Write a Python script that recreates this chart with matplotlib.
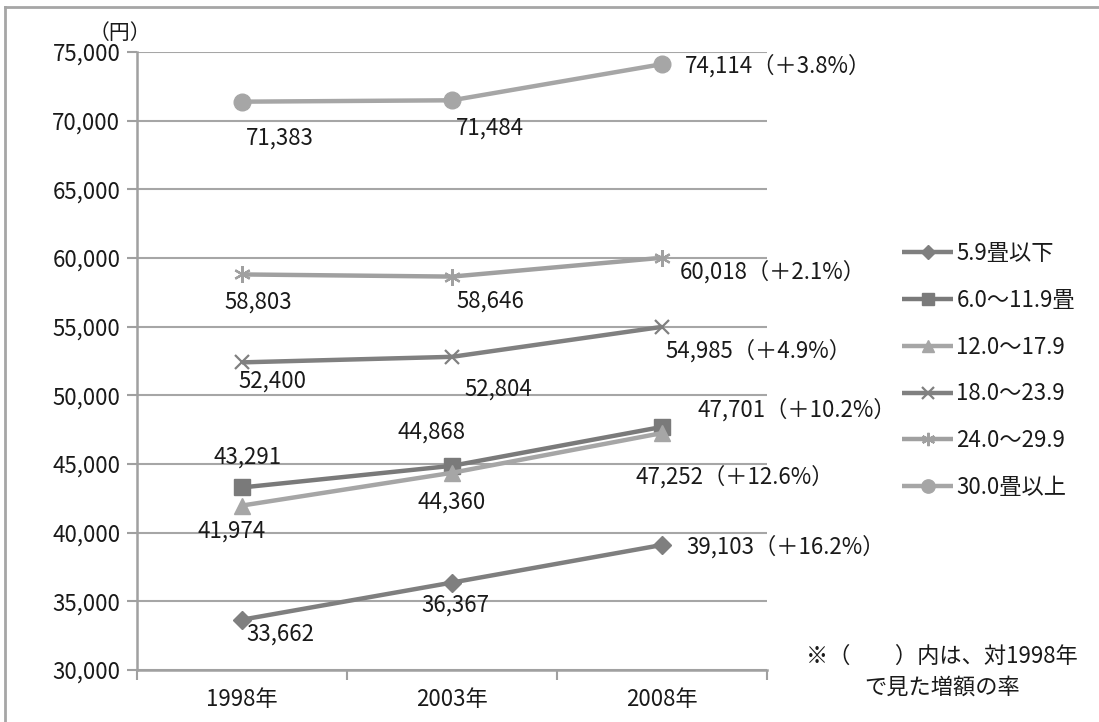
import matplotlib
matplotlib.use("Agg")
import matplotlib.pyplot as plt
from matplotlib.lines import Line2D
from matplotlib.ticker import FuncFormatter, FixedLocator

plt.rcParams["font.family"] = ["Noto Sans CJK JP", "DejaVu Sans"]

years = ["1998年", "2003年", "2008年"]
series_names = ["5.9畳以下", "6.0～11.9畳", "12.0～17.9", "18.0～23.9", "24.0～29.9", "30.0畳以上"]
rent_59 = [33662, 36367, 39103]
rent_60_119 = [43291, 44868, 47701]
rent_120_179 = [41974, 44360, 47252]
rent_180_239 = [52400, 52804, 54985]
rent_240_299 = [58803, 58646, 60018]
rent_300 = [71383, 71484, 74114]
growth = ["＋16.2%", "＋10.2%", "＋12.6%", "＋4.9%", "＋2.1%", "＋3.8%"]

all_series = [rent_59, rent_60_119, rent_120_179, rent_180_239, rent_240_299, rent_300]

# line styling per series
styles = [
    dict(color="#7f7f7f", marker="D", ms=9),
    dict(color="#7a7a7a", marker="s", ms=11),
    dict(color="#a6a6a6", marker="^", ms=11),
    dict(color="#808080", marker="x", ms=10, mew=1.6),
    dict(color="#a0a0a0", marker=(6, 2, 0), ms=12, mew=1.6),
    dict(color="#a6a6a6", marker="o", ms=12),
]

# label offsets in pixels (dx, dy) for each point; last entry is left-aligned
offsets = [
    [(38, -14), (3, -23), (24, -2)],
    [(6, 30), (-20, 34), (35, 17)],
    [(-10, -26), (0, -29), (-26, -44)],
    [(30, -19), (46, -32), (3, -24)],
    [(16, -28), (38, -25), (18, -14)],
    [(38, -36), (38, -28), (23, -2)],
]

fig = plt.figure(figsize=(10.99, 7.22), dpi=100)
ax = fig.add_axes([137 / 1099, 52 / 722, 630 / 1099, 618 / 722])

x = list(range(len(years)))
text_color = "#1a1a1a"
fs = 16

for name, vals, st, offs, g in zip(series_names, all_series, styles, offsets, growth):
    ax.plot(x, vals, lw=3.2, color=st["color"], marker=st["marker"], ms=st["ms"],
            mew=st.get("mew", 1.0), mec=st["color"], mfc=st["color"], label=name,
            solid_capstyle="butt", clip_on=False, zorder=3)
    for i, v in enumerate(vals):
        if i == len(vals) - 1:
            txt = f"{v:,}（{g}）"
            ha = "left"
        else:
            txt = f"{v:,}"
            ha = "center"
        ax.annotate(txt, (x[i], v), xytext=offs[i], textcoords="offset pixels",
                    ha=ha, va="center", fontsize=fs, color=text_color,
                    annotation_clip=False)

ax.set_xlim(-0.5, 2.5)
ax.set_ylim(30000, 75000)
ax.yaxis.set_major_locator(FixedLocator(range(30000, 75001, 5000)))
ax.yaxis.set_major_formatter(FuncFormatter(lambda v, p: f"{int(v):,}"))
ax.set_xticks(x)
ax.set_xticklabels(years)
ax.set_xticks([-0.5, 0.5, 1.5, 2.5], minor=True)
ax.tick_params(axis="x", which="major", length=0, pad=13, labelsize=fs, labelcolor=text_color)
ax.tick_params(axis="x", which="minor", length=7, width=1.5, color="#a0a0a0")
ax.tick_params(axis="y", length=7, width=1.5, color="#a0a0a0", pad=5,
               labelsize=fs, labelcolor=text_color)

ax.grid(axis="y", color="#a6a6a6", lw=1.5, zorder=0)
ax.set_axisbelow(True)
for side in ("top", "right"):
    ax.spines[side].set_visible(False)
for side in ("left", "bottom"):
    ax.spines[side].set_color("#a0a0a0")
    ax.spines[side].set_linewidth(1.8)

fig.text(120 / 1099, 1 - 33 / 722, "（円）", ha="center", va="center",
         fontsize=15, color=text_color)

handles, labels = ax.get_legend_handles_labels()
fig.legend(handles, labels, loc="upper left", bbox_to_anchor=(882 / 1099, 1 - 222 / 722),
           frameon=False, fontsize=fs, handlelength=2.3, handletextpad=0.15,
           labelspacing=1.07, markerscale=0.8, labelcolor=text_color)

fig.text(942 / 1099, 1 - 672 / 722, "※（　　）内は、対1998年\nで見た増額の率",
         ha="center", va="center", fontsize=fs, color=text_color, linespacing=1.45)

# outer frame
fig.add_artist(Line2D([5 / 1099, 5 / 1099], [0, 1 - 7 / 722], color="#a6a6a6", lw=2))
fig.add_artist(Line2D([5 / 1099, 1], [1 - 7 / 722, 1 - 7 / 722], color="#a6a6a6", lw=2))

fig.savefig("out.png", dpi=100)
